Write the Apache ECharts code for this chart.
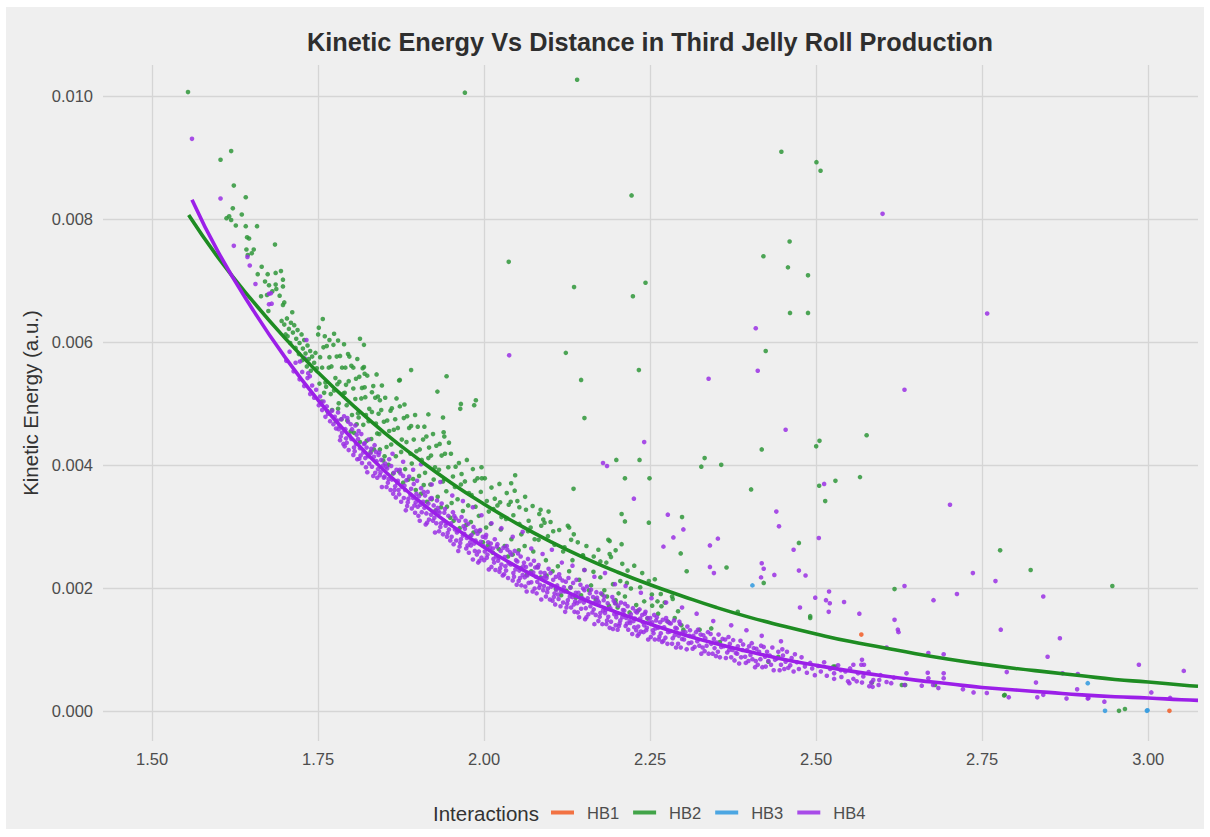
<!DOCTYPE html>
<html>
<head>
<meta charset="utf-8">
<title>Kinetic Energy Vs Distance in Third Jelly Roll Production</title>
<script src="https://cdn.jsdelivr.net/npm/echarts@6/dist/echarts.min.js"></script>
<style>
  html, body { margin: 0; padding: 0; background: #ffffff; }
  #panel { position: absolute; left: 6px; top: 7px; width: 1198px; height: 822px; background: #efefef; }
  #chart { position: absolute; left: 0; top: 0; width: 1210px; height: 837px; }
</style>
</head>
<body>
<div id="panel"></div>
<div id="chart"></div>
<script>
// Axis ticks
const xTicks = [1.50, 1.75, 2.00, 2.25, 2.50, 2.75, 3.00];
const yTicks = [0.000, 0.002, 0.004, 0.006, 0.008, 0.010];

// HB1 interactions (distance, kinetic energy)
const hb1 = [[2.568,.00124],[3.032,0]];

// HB3 interactions
const hb3 = [[2.404,.00204],[2.909,.00045],[2.935,0],[2.998,0],[2.999,.00001]];

// HB2 interactions: short-distance cluster
const hb2Head = [
[1.612,.00801],[1.616,.00804],[1.619,.00798],[1.626,.00789],[1.641,.00788],[1.658,.00788],[1.643,.0077],[1.646,.00768],[1.685,.00758],[1.642,.0075],[1.653,.0075],[1.650,.00744],[1.644,.00741],[1.665,.00722],[1.659,.0071],[1.674,.0071],[1.686,.00712],[1.694,.00715],[1.670,.00698],[1.676,.00692],[1.686,.00693],[1.697,.00701],[1.697,.0069],[1.664,.00674],[1.673,.00676],[1.692,.00675],[1.687,.00686],[1.681,.00682],[1.697,.0066],[1.675,.0065],[1.699,.00664],
[1.695,.00634],[1.699,.00628],[1.703,.00638],[1.706,.00621],[1.709,.00631],[1.712,.00615],[1.704,.00609],[1.714,.00627],[1.717,.00605],[1.719,.00619],[1.722,.00598],[1.708,.00598],[1.725,.00612],[1.727,.00589],[1.716,.0059],[1.729,.00603],[1.731,.00581],[1.721,.0058],[1.734,.00594],[1.736,.00572],[1.738,.00585],[1.726,.0057],[1.741,.00576],[1.744,.00566],[1.733,.0056],[1.746,.00582],[1.748,.00557],[1.739,.00553],[1.711,.00648],[1.701,.00612]
];

// HB2 interactions: main cloud
const hb2Band = [
[1.750,.00612],[1.752,.00532],[1.753,.00575],[1.755,.00503],[1.756,.00558],[1.758,.00591],[1.759,.00517],[1.751,.00623],
[1.761,.00534],[1.763,.00593],[1.764,.00487],[1.766,.00558],[1.767,.00575],[1.769,.00515],[1.760,.00609],[1.762,.00527],
[1.770,.0056],[1.771,.00489],[1.773,.00595],[1.774,.00521],[1.776,.00541],[1.777,.00471],[1.778,.00576],[1.779,.00531],
[1.780,.00491],[1.782,.00535],[1.783,.00577],[1.785,.00474],[1.786,.00558],[1.788,.00516],[1.789,.00596],[1.781,.005],
[1.791,.00558],[1.793,.00497],[1.794,.00472],[1.796,.00536],[1.797,.00576],[1.799,.00454],[1.790,.00517],[1.792,.0053],
[1.800,.00561],[1.801,.00481],[1.803,.00524],[1.804,.00452],[1.806,.00507],[1.807,.0054],[1.808,.00466],[1.809,.00572],
[1.810,.00484],[1.812,.00543],[1.813,.00437],[1.815,.00508],[1.816,.00525],[1.818,.00465],[1.819,.00559],[1.811,.00477],
[1.821,.0051],[1.823,.00439],[1.824,.00545],[1.826,.00471],[1.827,.00491],[1.829,.00421],[1.820,.00526],[1.822,.00481],
[1.830,.00442],[1.831,.00486],[1.833,.00528],[1.834,.00425],[1.836,.00509],[1.837,.00467],[1.838,.00547],[1.839,.00451],
[1.840,.00511],[1.842,.0045],[1.843,.00425],[1.845,.00489],[1.846,.00529],[1.848,.00407],[1.849,.0047],[1.841,.00483],
[1.851,.00509],[1.853,.00429],[1.854,.00472],[1.856,.004],[1.857,.00455],[1.859,.00488],[1.850,.00414],
[1.860,.00433],[1.861,.00492],[1.863,.00386],[1.864,.00457],[1.866,.00474],[1.867,.00414],[1.868,.00508],
[1.870,.0046],[1.872,.00389],[1.873,.00495],[1.875,.00421],[1.876,.00441],[1.878,.00371],[1.879,.00476],
[1.881,.00393],[1.883,.00437],[1.884,.00479],[1.886,.00376],[1.887,.0046],[1.889,.00418],[1.880,.00498],
[1.890,.00463],[1.891,.00402],[1.893,.00377],[1.894,.00441],[1.896,.00481],[1.897,.00359],[1.898,.00422],
[1.900,.00462],[1.902,.00382],[1.903,.00425],[1.905,.00353],[1.906,.00408],[1.908,.00441],[1.909,.00367],
[1.911,.00387],[1.913,.00446],[1.914,.0034],[1.916,.00411],[1.917,.00428],[1.919,.00368],[1.910,.00462],
[1.920,.00415],[1.921,.00344],[1.923,.0045],[1.924,.00376],[1.926,.00396],[1.927,.00326],[1.928,.00431],
[1.930,.00348],[1.932,.00392],[1.933,.00434],[1.935,.00331],[1.936,.00415],[1.938,.00373],[1.939,.00453],
[1.941,.00418],[1.943,.00357],[1.944,.00332],[1.946,.00396],[1.947,.00436],[1.949,.00314],[1.940,.00377],
[1.950,.00418],[1.951,.00338],[1.953,.00381],[1.954,.00309],[1.956,.00364],[1.957,.00397],
[1.960,.00344],[1.962,.00403],[1.963,.00297],[1.965,.00368],[1.966,.00385],[1.968,.00325],
[1.971,.00373],[1.973,.00302],[1.974,.00408],[1.976,.00334],[1.977,.00354],[1.979,.00284],
[1.980,.00307],[1.981,.00351],[1.983,.00393],[1.984,.0029],[1.986,.00374],[1.987,.00332],
[1.990,.00378],[1.992,.00317],[1.993,.00292],[1.995,.00356],[1.996,.00396],[1.998,.00274],
[2.001,.00378],[2.003,.00298],[2.004,.00341],[2.006,.00269],[2.007,.00324],
[2.010,.00304],[2.011,.00363],[2.013,.00257],[2.014,.00328],[2.016,.00345],
[2.020,.00334],[2.022,.00263],[2.023,.00369],[2.025,.00295],[2.026,.00315],
[2.031,.00268],[2.033,.00312],[2.034,.00354],[2.036,.00251],[2.037,.00335],
[2.040,.0034],[2.041,.00279],[2.043,.00254],[2.044,.00318],[2.046,.00358],
[2.050,.00341],[2.052,.00261],[2.053,.00304],[2.055,.00232],[2.056,.00287],
[2.061,.00268],[2.063,.00327],[2.064,.00221],[2.066,.00292],[2.067,.00309],
[2.070,.00298],[2.071,.00227],[2.073,.00333],[2.074,.00259],[2.076,.00279],
[2.080,.00234],[2.082,.00278],[2.083,.0032],[2.085,.00217],[2.086,.00301],
[2.091,.00306],[2.093,.00245],[2.094,.0022],[2.096,.00284],[2.097,.00324],
[2.100,.00307],[2.103,.00227],[2.106,.0027],[2.108,.00198],
[2.111,.00235],[2.113,.00294],[2.116,.00188],[2.119,.00259],
[2.121,.00266],[2.124,.00195],[2.126,.00301],[2.128,.00227],
[2.130,.00201],[2.133,.00245],[2.135,.00287],[2.138,.00184],
[2.141,.00274],[2.143,.00213],[2.146,.00188],[2.149,.00252],
[2.151,.00229],[2.154,.00268],[2.158,.00196],[2.161,.00204],[2.165,.00251],[2.168,.00181],[2.172,.00262],[2.175,.00217],[2.178,.00189],[2.181,.00196],[2.184,.00241],[2.188,.00171],[2.191,.0025],[2.194,.00206],[2.198,.0018],[2.201,.00168],[2.205,.00211],[2.208,.00239],[2.212,.00186],[2.216,.00228],[2.219,.0016],[2.221,.00199],[2.226,.00236],[2.229,.00172],[2.232,.00163],[2.235,.00201],[2.238,.00224],[2.241,.00178],[2.246,.0015],[2.248,.00211],[2.253,.00171],[2.257,.00214],[2.262,.00158],[2.266,.0019],[2.272,.00176],[2.277,.00145],[2.283,.00186],[2.287,.00151],[2.292,.00162],[2.297,.00139],
[2.185,.00186],[2.2024,.00191],[2.215,.00208],[2.198,.00175],[2.2526,.00189],[2.261,.00178],[2.267,.0017],[2.284,.00182],[2.300,.00132],[2.3245,.00132],[2.342,.00134],[2.382,.00161],[2.355,.00112],[2.443,.00088],[2.428,.0008],[2.526,.00072],[2.584,.00046],[2.679,.00042],[2.634,.00042],[2.5286,.00072],[2.629,.00042],[2.783,.00025]
];

// HB2 interactions: scattered points away from the cloud
const hb2Spread = [
[1.554,.01006],[1.603,.00896],[1.619,.0091],[1.623,.00854],[1.641,.00835],[1.6215,.00817],[1.635,.00807],
[1.971,.01005],[2.140,.01026],[2.4476,.00909],[2.5004,.00892],[2.5066,.00878],[2.222,.00838],[2.460,.00763],[2.4206,.00739],[2.4575,.00721],[2.4877,.00708],[2.1354,.00689],[2.243,.00696],[2.224,.00674],[2.4606,.00647],[2.4877,.00647],[2.123,.00582],[2.424,.00585],[2.233,.00554],[2.146,.00538],[2.037,.0073],
[2.576,.00448],[2.505,.00439],[2.500,.0043],[2.418,.00425],[2.199,.00408],[2.234,.00408],[2.332,.00411],[2.327,.00397],[2.357,.004],[2.212,.00378],[2.249,.00378],[2.566,.0038],[2.529,.00374],[2.5045,.00366],[2.5136,.00341],[2.402,.0036],[2.207,.0032],[2.212,.00308],[2.248,.00306],[2.298,.00315],[2.296,.00256],[2.474,.00273],[2.777,.00261],[2.189,.00276],[2.207,.00271],[2.198,.00261],[2.189,.00255],[2.305,.00227],[2.365,.00233],[2.421,.00208],[2.823,.00229],[2.618,.00198],[2.946,.00203],[2.491,.00154],[2.491,.00151],[2.784,.00026],[2.956,0],[2.965,.00003],
[1.873,.00538],[1.890,.00554],[1.9434,.00544],[1.9296,.00519],[1.964,.00491],[1.985,.00497],[1.757,.00637],[1.767,.00603],[1.780,.00602],[1.774,.00613],[1.813,.00605],[1.819,.00595],[1.795,.0058],[1.803,.00558],[1.817,.00557],[1.820,.00548],
[1.965,.00499],[1.9875,.00505],[1.916,.00482],[1.938,.00477],[1.940,.00446],[1.843,.00505],[1.831,.00518],[1.872,.00537],[2.151,.00476],[2.0467,.00383],[2.0407,.0037],[1.9965,.00378],[2.0617,.00348],[2.024,.00339],[2.053,.00331],[2.085,.00327],[2.1346,.00361],[2.128,.00298],[2.104,.00292],[2.089,.00311],[2.131,.00278],[2.1646,.00226],[2.1486,.00253],[2.175,.00243],[2.187,.00278]
];

// HB4 interactions: main band
const hb4Band = [
[1.702,.00569],[1.707,.00584],[1.713,.00552],[1.716,.00566],[1.722,.00539],[1.726,.00551],[1.729,.00528],[1.734,.00541],[1.738,.00515],[1.741,.00529],[1.744,.00509],[1.747,.00522],[1.751,.00497],[1.753,.00511],[1.756,.00489],[1.758,.00503],[1.761,.00478],[1.763,.00495],[1.765,.00483],[1.768,.00471],[1.771,.00488],[1.773,.00466],[1.775,.00478],[1.777,.00459],[1.779,.00472],
[1.780,.00485],[1.782,.00463],[1.783,.0044],[1.785,.00474],[1.786,.00452],[1.788,.00434],[1.789,.00479],[1.781,.00458],[1.784,.00446],
[1.791,.00458],[1.793,.00436],[1.794,.00476],[1.796,.00424],[1.797,.00448],[1.799,.00466],[1.790,.0043],[1.792,.00443],[1.795,.0047],
[1.800,.00442],[1.801,.00458],[1.803,.00416],[1.804,.00428],[1.806,.00464],[1.807,.00434],[1.808,.00449],[1.809,.00409],[1.805,.00422],
[1.810,.00442],[1.812,.0041],[1.813,.00427],[1.815,.0045],[1.816,.00403],[1.818,.0042],[1.819,.00434],[1.811,.00455],[1.814,.00415],
[1.821,.00411],[1.823,.00428],[1.824,.00388],[1.826,.00441],[1.827,.00402],[1.829,.00419],[1.820,.00435],[1.822,.00396],[1.825,.00414],
[1.830,.00426],[1.831,.00397],[1.833,.00382],[1.834,.00413],[1.836,.00387],[1.837,.00421],[1.838,.00406],[1.839,.00379],[1.835,.00432],
[1.840,.00393],[1.842,.0042],[1.843,.00383],[1.845,.00408],[1.846,.00364],[1.848,.00399],[1.849,.00379],[1.841,.00416],[1.844,.00388],
[1.851,.00402],[1.853,.00364],[1.854,.00394],[1.856,.00377],[1.857,.00409],[1.859,.00359],[1.850,.00381],[1.852,.00397],[1.855,.00371],
[1.860,.00398],[1.861,.00376],[1.863,.00353],[1.864,.00387],[1.866,.00365],[1.867,.00347],[1.868,.00392],[1.869,.00371],[1.865,.00359],
[1.870,.00374],[1.872,.00352],[1.873,.00392],[1.875,.0034],[1.876,.00364],[1.878,.00382],[1.879,.00346],[1.871,.00359],[1.874,.00386],
[1.881,.00359],[1.883,.00375],[1.884,.00333],[1.886,.00345],[1.887,.00381],[1.889,.00351],[1.880,.00366],[1.882,.00326],[1.885,.00339],
[1.890,.00361],[1.891,.00329],[1.893,.00346],[1.894,.00369],[1.896,.00322],[1.897,.00339],[1.898,.00353],[1.899,.00374],[1.895,.00334],
[1.900,.00332],[1.902,.00349],[1.903,.00309],[1.905,.00362],[1.906,.00323],[1.908,.0034],[1.909,.00356],[1.901,.00317],[1.904,.00335],
[1.911,.0035],[1.913,.00321],[1.914,.00306],[1.916,.00337],[1.917,.00311],[1.919,.00345],[1.910,.0033],[1.912,.00303],[1.915,.00356],
[1.920,.00319],[1.921,.00346],[1.923,.00309],[1.924,.00334],[1.926,.0029],[1.927,.00325],[1.928,.00305],[1.929,.00342],[1.925,.00314],
[1.930,.0033],[1.932,.00292],[1.933,.00322],[1.935,.00305],[1.936,.00337],[1.938,.00287],[1.939,.00309],[1.931,.00325],[1.934,.00299],
[1.941,.00328],[1.943,.00306],[1.944,.00283],[1.946,.00317],[1.947,.00295],[1.949,.00277],[1.940,.00322],[1.942,.00301],[1.945,.00289],
[1.950,.00305],[1.951,.00283],[1.953,.00323],[1.954,.00271],[1.956,.00295],[1.957,.00313],[1.958,.00277],[1.959,.0029],[1.955,.00317],
[1.960,.00293],[1.962,.00309],[1.963,.00267],[1.965,.00279],[1.966,.00315],[1.968,.00285],[1.969,.003],[1.961,.0026],[1.964,.00273],
[1.971,.00296],[1.973,.00264],[1.974,.00281],[1.976,.00304],[1.977,.00257],[1.979,.00274],[1.970,.00288],[1.972,.00309],[1.975,.00269],
[1.980,.00269],[1.981,.00286],[1.983,.00246],[1.984,.00299],[1.986,.0026],[1.987,.00277],[1.988,.00293],[1.989,.00254],[1.985,.00272],
[1.990,.00288],[1.992,.00259],[1.993,.00244],[1.995,.00275],[1.996,.00249],[1.998,.00283],[1.999,.00268],[1.991,.00241],[1.994,.00294],
[2.001,.00259],[2.003,.00286],[2.004,.00249],[2.006,.00274],[2.007,.0023],[2.009,.00265],[2.000,.00245],[2.002,.00282],[2.005,.00254],
[2.010,.00272],[2.011,.00234],[2.013,.00264],[2.014,.00247],[2.016,.00279],[2.017,.00229],[2.018,.00251],[2.019,.00267],[2.015,.00241],
[2.020,.00271],[2.022,.00249],[2.023,.00226],[2.025,.0026],[2.026,.00238],[2.028,.0022],[2.029,.00265],[2.021,.00244],[2.024,.00232],
[2.031,.0025],[2.033,.00228],[2.034,.00268],[2.036,.00216],[2.037,.0024],[2.039,.00258],[2.030,.00222],[2.032,.00235],[2.035,.00262],
[2.040,.00238],[2.041,.00254],[2.043,.00212],[2.044,.00224],[2.046,.0026],[2.047,.0023],[2.048,.00245],[2.049,.00205],[2.045,.00218],
[2.050,.00243],[2.052,.00211],[2.053,.00228],[2.055,.00251],[2.056,.00204],[2.058,.00221],[2.059,.00235],[2.051,.00256],[2.054,.00216],
[2.061,.00217],[2.063,.00234],[2.064,.00194],[2.066,.00247],[2.067,.00208],[2.069,.00225],[2.060,.00241],[2.062,.00202],[2.065,.0022],
[2.070,.00238],[2.071,.00209],[2.073,.00194],[2.074,.00225],[2.076,.00199],[2.077,.00233],[2.078,.00218],[2.079,.00191],[2.075,.00244],
[2.080,.0021],[2.082,.00237],[2.083,.002],[2.085,.00225],[2.086,.00181],[2.088,.00216],[2.089,.00196],[2.081,.00233],[2.084,.00205],
[2.091,.00224],[2.093,.00186],[2.094,.00216],[2.096,.00199],[2.097,.00231],[2.099,.00181],[2.090,.00203],[2.092,.00219],[2.095,.00193],
[2.100,.00224],[2.101,.00202],[2.103,.00179],[2.104,.00213],[2.106,.00191],[2.107,.00173],[2.108,.00218],[2.109,.00197],[2.105,.00185],
[2.110,.00204],[2.112,.00182],[2.113,.00222],[2.115,.0017],[2.116,.00194],[2.118,.00212],[2.119,.00176],[2.111,.00189],[2.114,.00216],
[2.121,.00194],[2.123,.0021],[2.124,.00168],[2.126,.0018],[2.127,.00216],[2.129,.00186],[2.120,.00201],[2.122,.00161],[2.125,.00174],
[2.130,.002],[2.131,.00168],[2.133,.00185],[2.134,.00208],[2.136,.00161],[2.137,.00178],[2.138,.00192],[2.139,.00213],[2.135,.00173],
[2.140,.00175],[2.142,.00192],[2.143,.00152],[2.145,.00205],[2.146,.00166],[2.148,.00183],[2.149,.00199],[2.141,.0016],[2.144,.00178],
[2.151,.00196],[2.153,.00167],[2.154,.00152],[2.156,.00183],[2.157,.00157],[2.159,.00191],[2.150,.00176],[2.152,.00149],[2.155,.00202],
[2.160,.0017],[2.161,.00197],[2.163,.0016],[2.164,.00185],[2.166,.00141],[2.167,.00176],[2.168,.00156],[2.169,.00193],[2.165,.00165],
[2.170,.00184],[2.172,.00146],[2.173,.00176],[2.175,.00159],[2.176,.00191],[2.178,.00141],[2.179,.00163],[2.171,.00179],[2.174,.00153],
[2.181,.00186],[2.183,.00164],[2.184,.00141],[2.186,.00175],[2.187,.00153],[2.189,.00135],[2.180,.0018],[2.182,.00159],[2.185,.00147],
[2.190,.00167],[2.191,.00145],[2.193,.00185],[2.194,.00133],[2.196,.00157],[2.197,.00175],[2.198,.00139],[2.199,.00152],[2.195,.00179],
[2.200,.00158],[2.202,.00171],[2.203,.00138],[2.205,.00147],[2.206,.00176],[2.208,.00152],[2.209,.00164],[2.201,.00132],[2.204,.00142],
[2.211,.00163],[2.213,.00138],[2.214,.00151],[2.216,.0017],[2.217,.00132],[2.219,.00146],[2.210,.00157],[2.212,.00174],[2.215,.00142],
[2.220,.00143],[2.221,.00157],[2.223,.00125],[2.224,.00167],[2.226,.00136],[2.227,.0015],[2.228,.00162],[2.229,.00131],[2.225,.00146],
[2.230,.0016],[2.232,.00137],[2.233,.00125],[2.235,.0015],[2.236,.00129],[2.238,.00156],[2.239,.00144],[2.231,.00122],[2.234,.00165],
[2.241,.00139],[2.243,.00161],[2.244,.00131],[2.246,.00151],[2.247,.00116],[2.249,.00144],[2.240,.00128],[2.242,.00158],[2.245,.00135],
[2.250,.00151],[2.251,.0012],[2.253,.00144],[2.254,.00131],[2.256,.00156],[2.257,.00116],[2.258,.00134],[2.259,.00147],[2.255,.00126],
[2.260,.00152],[2.262,.00135],[2.263,.00116],[2.265,.00144],[2.266,.00126],[2.268,.00112],[2.269,.00148],[2.264,.00121],
[2.271,.00136],[2.273,.00119],[2.274,.00151],[2.276,.00109],[2.277,.00128],[2.279,.00143],[2.270,.00114],[2.275,.00146],
[2.280,.00129],[2.281,.00142],[2.283,.00109],[2.284,.00118],[2.286,.00147],[2.287,.00123],[2.288,.00135],[2.289,.00103],
[2.290,.00134],[2.292,.00109],[2.293,.00122],[2.295,.00141],[2.296,.00103],[2.298,.00117],[2.299,.00128],[2.294,.00145],
[2.301,.00116],[2.303,.00128],[2.305,.001],[2.306,.00137],[2.308,.0011],[2.309,.00122],
[2.310,.00131],[2.312,.00111],[2.314,.00101],[2.315,.00122],[2.317,.00104],[2.319,.00128],
[2.321,.00113],[2.322,.00132],[2.324,.00106],[2.326,.00124],[2.327,.00093],[2.329,.00103],
[2.330,.00123],[2.332,.00097],[2.333,.00118],[2.335,.00106],[2.337,.00128],[2.338,.00093],
[2.341,.00125],[2.342,.00109],[2.344,.00093],[2.346,.00117],[2.347,.00102],[2.349,.00089],
[2.350,.00111],[2.352,.00096],[2.353,.00124],[2.355,.00087],[2.357,.00104],[2.359,.00117],
[2.361,.00105],[2.363,.00116],[2.364,.00086],[2.366,.00095],[2.368,.0012],[2.369,.00099],
[2.370,.00109],[2.372,.00087],[2.374,.00099],[2.375,.00115],[2.377,.00082],[2.379,.00094],
[2.381,.00093],[2.382,.00105],[2.384,.00077],[2.386,.00114],[2.387,.00087],[2.389,.00099],
[2.390,.00108],[2.393,.00088],[2.394,.00078],[2.396,.00099],[2.398,.00081],[2.399,.00105],
[2.401,.00091],[2.403,.0011],[2.404,.00084],[2.406,.00102],[2.408,.00071],[2.409,.00081],
[2.410,.00101],[2.412,.00075],[2.414,.00096],[2.416,.00084],[2.417,.00106],[2.419,.00071],
[2.421,.00104],[2.423,.00088],[2.424,.00072],[2.426,.00096],[2.428,.00081],
[2.430,.0009],[2.432,.00075],[2.434,.00103],[2.436,.00066],[2.438,.00083],
[2.441,.00085],[2.443,.00096],[2.445,.00066],[2.447,.00075],[2.449,.001],
[2.450,.0009],[2.452,.00068],[2.454,.0008],[2.456,.00096],[2.458,.0007],
[2.461,.00074],[2.463,.00086],[2.466,.00064],[2.468,.00092],
[2.471,.00079],[2.474,.00068],[2.478,.00087],[2.483,.00072],[2.486,.00062],[2.491,.00078],[2.494,.00069],[2.498,.00058],[2.503,.00073],[2.507,.00064],[2.512,.00079],[2.516,.00057],[2.521,.00068],[2.527,.00061],[2.533,.00074],[2.538,.00055],[2.544,.00064],[2.551,.00069],[2.556,.00052],[2.563,.00061],[2.571,.00056],[2.579,.00063],[2.586,.0005],[2.597,.00058],[2.606,.00047],[2.617,.00054],
[1.862,.00418],[1.878,.00405],[1.893,.00392],[1.905,.00401],[1.921,.00368],[1.934,.00372],[1.952,.0035],[1.968,.00341],[1.983,.00331],[1.996,.00318],[2.011,.00305],[2.026,.00297],[2.043,.00283],[2.058,.00291],[2.071,.00264],[2.088,.00255],[2.102,.00262],[2.117,.00241],[2.133,.00236],[2.151,.00229],[2.166,.00218],[2.182,.00224],[2.197,.00206],[2.213,.00203],[2.236,.00192],[2.252,.00183],[2.274,.00176],[2.298,.00168],[2.320,.00158],[2.345,.00146],[2.372,.00139],[2.395,.00131],[2.418,.00122],[2.447,.00113]
];

// HB4 interactions: scattered points away from the band
const hb4Spread = [
[1.560,.0093],[1.603,.00833],[1.623,.00756],[1.6435,.00738],[1.647,.00724],[1.6556,.00694],[1.676,.00678],[1.676,.00661],[1.6788,.00679],[1.680,.00662],
[1.7324,.00603],[1.730,.00573],[1.7225,.00568],[1.735,.00549],[1.7375,.00544],
[2.0377,.00578],[2.179,.00403],[2.185,.00398],[2.241,.00437],[2.2255,.00345],[2.2766,.00319],[2.300,.00295],[2.285,.00282],[2.270,.00267],[2.340,.00269],[2.352,.0028],[2.340,.00234],[2.346,.00224],[2.418,.0024],[2.421,.00231],[2.437,.00221],[2.417,.00217],[2.440,.00324],[2.444,.003],[2.454,.00457],[2.466,.00262],[2.474,.00228],[2.484,.0022],[2.504,.00281],[2.512,.00369],[2.4986,.00184],[2.5194,.00194],[2.5148,.0018],[2.5205,.00175],[2.542,.00177],[2.5189,.00161],[2.4756,.00168],[2.565,.00158],[2.618,.00148],[2.623,.00132],[2.624,.00128],[2.6767,.0018],[2.712,.0019],[2.736,.00224],[2.770,.00211],[2.633,.00203],[2.7015,.00335],[2.778,.00132],[2.842,.00186],[2.867,.00118],[2.8485,.00088],[2.986,.00075],[3.0536,.00065],[3.0047,.0003],[3.033,.00021],[2.934,.00015],[2.910,.00021],[2.893,.00035],[2.877,.0002],[2.833,.00022],[2.842,.00026],[2.871,.00061],[2.894,.0006],[2.831,.00046],[2.787,.00063],[2.790,.00022],[2.757,.00029],[2.737,.0003],[2.721,.00035],[2.692,.00061],[2.692,.00053],[2.684,.00037],[2.668,.00062],[2.669,.00053],[2.636,.00061],[2.633,.00042],[2.659,.00041],[2.676,.00042],[2.669,.00094],[2.692,.00092],[2.606,.00103],[2.613,.00045],[2.583,.00046],[2.595,.0005],[2.585,.00039],[2.594,.00042],[2.580,.0004],[2.569,.00046],[2.561,.00048],[2.550,.00045],[2.527,.00052],[2.537,.00066],[2.556,.00075],[2.569,.00083],[2.572,.00075],[2.568,.00075],[2.548,.00048],[2.600,.00808],[2.7575,.00646],[2.409,.00622],[2.412,.00553],[2.338,.0054],[2.633,.00522],[2.909,.0002]
];

// Fitted trend curves
const hb2Fit = [[1.555,.00806],[1.60,.00736],[1.65,.00668],[1.70,.00606],[1.75,.0055],[1.80,.00499],[1.85,.00452],[1.90,.0041],[1.95,.00371],[2.00,.00336],[2.05,.00304],[2.10,.00275],[2.15,.00249],[2.20,.00226],[2.25,.00205],[2.30,.00186],[2.35,.00168],[2.40,.00152],[2.45,.00138],[2.50,.00125],[2.55,.00113],[2.60,.00103],[2.65,.00093],[2.70,.00084],[2.75,.00076],[2.80,.00069],[2.85,.00063],[2.90,.00057],[2.95,.00051],[3.00,.00047],[3.05,.00042],[3.075,.0004]];
const hb4Fit = [[1.56,.00831],[1.60,.00745],[1.65,.00655],[1.70,.00575],[1.75,.00505],[1.80,.00444],[1.85,.0039],[1.90,.00343],[1.95,.00302],[2.00,.00266],[2.05,.00234],[2.10,.00206],[2.15,.00181],[2.20,.0016],[2.25,.00141],[2.30,.00124],[2.35,.00109],[2.40,.00096],[2.45,.00084],[2.50,.00074],[2.55,.00065],[2.60,.00057],[2.65,.0005],[2.70,.00044],[2.75,.00038],[2.80,.00034],[2.85,.0003],[2.90,.00026],[2.95,.00023],[3.00,.00021],[3.05,.00018],[3.075,.00017]];

const COLORS = { HB1: '#f26430', HB2: '#23962b', HB3: '#3a9de0', HB4: '#9b2ee6' };
const FONT = "'Liberation Sans', Arial, sans-serif";

const chart = echarts.init(document.getElementById('chart'), null, { renderer: 'svg' });

function scatter(name, data, color, opacity) {
  return {
    name, type: 'scatter', data,
    symbolSize: 4.6,
    itemStyle: { color, opacity },
    silent: true
  };
}
function fit(name, data, color) {
  return {
    name, type: 'line', data,
    smooth: true, showSymbol: false, symbol: 'none',
    lineStyle: { color, width: 3.6 },
    itemStyle: { color },
    silent: true, z: 5
  };
}

chart.setOption({
  animation: false,
  backgroundColor: 'transparent',
  textStyle: { fontFamily: FONT },
  grid: { left: 103, right: 12, top: 65, bottom: 96, containLabel: false },
  graphic: [
    { type: 'text', x: 650, y: 42,
      style: { text: 'Kinetic Energy Vs Distance in Third Jelly Roll Production',
               font: 'bold 25.3px ' + FONT, fill: '#2e2e2e', align: 'center', verticalAlign: 'middle' } },
    { type: 'text', x: 433, y: 813,
      style: { text: 'Interactions', font: '20.5px ' + FONT, fill: '#333333', align: 'left', verticalAlign: 'middle' } }
  ],
  legend: {
    left: 551, top: 804, padding: 0,
    itemWidth: 23, itemHeight: 4, itemGap: 14,
    icon: 'rect',
    selectedMode: false,
    textStyle: { fontSize: 16.5, color: '#4d4d4d', fontFamily: FONT, padding: [0, 0, 0, 8] },
    data: ['HB1', 'HB2', 'HB3', 'HB4'].map(n => ({ name: n, itemStyle: { color: COLORS[n] } }))
  },
  xAxis: {
    type: 'value', min: 1.426, max: 3.075,
    axisLine: { show: false },
    axisTick: { show: false, customValues: xTicks },
    axisLabel: { customValues: xTicks, margin: 9, fontSize: 16.5, color: '#4d4d4d',
                 formatter: v => v.toFixed(2) },
    splitLine: { show: true, lineStyle: { color: '#d5d5d5', width: 1.3 } }
  },
  yAxis: {
    type: 'value', min: -0.00049, max: 0.0105,
    name: 'Kinetic Energy (a.u.)', nameLocation: 'middle', nameGap: 50,
    nameTextStyle: { fontSize: 20.5, color: '#333333' },
    axisLine: { show: false },
    axisTick: { show: false, customValues: yTicks },
    axisLabel: { customValues: yTicks, margin: 10, fontSize: 16.5, color: '#4d4d4d',
                 formatter: v => v.toFixed(3) },
    splitLine: { show: true, lineStyle: { color: '#d5d5d5', width: 1.3 } }
  },
  series: [
    scatter('HB1', hb1, COLORS.HB1, 0.9),
    scatter('HB2', hb2Head.concat(hb2Band, hb2Spread), '#2f963a', 0.85),
    scatter('HB3', hb3, COLORS.HB3, 0.9),
    scatter('HB4', hb4Band.concat(hb4Spread), '#9a30e4', 0.85),
    fit('HB2', hb2Fit, '#1e8c22'),
    fit('HB4', hb4Fit, '#9b1fe8')
  ]
});
</script>
</body>
</html>
